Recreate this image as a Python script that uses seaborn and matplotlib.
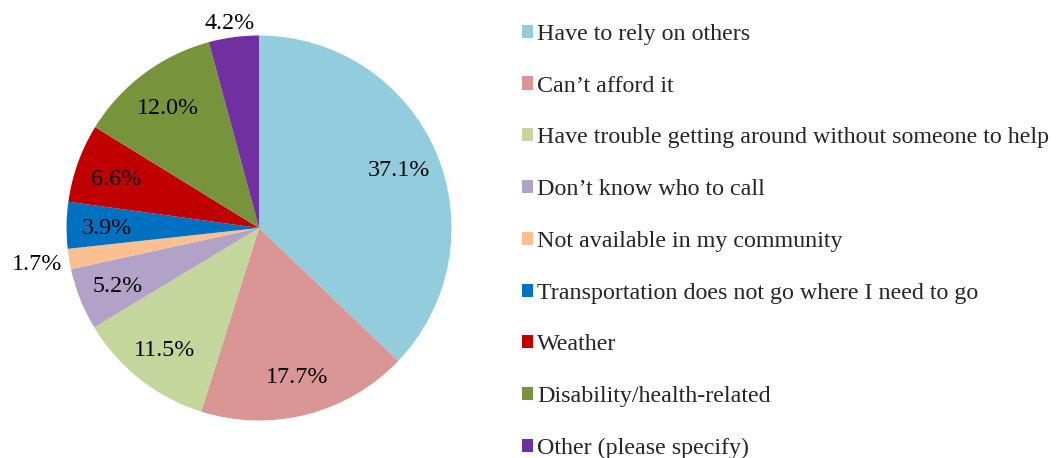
import matplotlib
matplotlib.use("Agg")
import matplotlib.pyplot as plt
import seaborn as sns
import numpy as np

# ==============================
# DATA
# ==============================
reasons = [
    "Have to rely on others",
    "Can\u2019t afford it",
    "Have trouble getting around without someone to help",
    "Don\u2019t know who to call",
    "Not available in my community",
    "Transportation does not go where I need to go",
    "Weather",
    "Disability/health-related",
    "Other (please specify)",
]
shares = [37.1, 17.7, 11.5, 5.2, 1.7, 3.9, 6.6, 12.0, 4.2]
colors = ["#93CDDD", "#D99694", "#C3D69B", "#B3A2C7", "#FAC090",
          "#0070C0", "#C00000", "#77933C", "#7030A0"]

# slices whose label sits outside the pie
outside = {"Not available in my community", "Other (please specify)"}

# ==============================
# STYLE
# ==============================
sns.set_theme(style="white")
plt.rcParams["font.family"] = ["Liberation Serif", "DejaVu Serif"]
FS = 17.3

fig = plt.figure(figsize=(10.63, 4.58), dpi=100)
ax = fig.add_axes([0.0626, 0.0819, 0.3622, 0.8406])

wedges, texts, pcts = ax.pie(
    shares,
    colors=colors,
    startangle=90,
    counterclock=False,
    autopct=lambda p: f"{p:.1f}%",
    pctdistance=0.79,
    wedgeprops={"linewidth": 0},
    textprops={"fontsize": FS, "color": "black"},
)

# move the small-slice labels outside, center labels on the digits
for w, t, name in zip(wedges, pcts, reasons):
    t.set_va("center_baseline")
    if name in outside:
        ang = np.deg2rad((w.theta1 + w.theta2) / 2)
        t.set_position((1.17 * np.cos(ang), 1.085 * np.sin(ang)))

ax.set_xlim(-1, 1)
ax.set_ylim(-1, 1)
ax.set_aspect("equal")
ax.axis("off")

fig.legend(
    wedges, reasons,
    loc="upper left",
    bbox_to_anchor=(522 / 1063, 0.948),
    frameon=False,
    fontsize=FS,
    handlelength=0.46,
    handleheight=0.46,
    handletextpad=0.18,
    labelspacing=1.28,
    borderpad=0,
    borderaxespad=0,
)

plt.savefig("out.png", dpi=100)
